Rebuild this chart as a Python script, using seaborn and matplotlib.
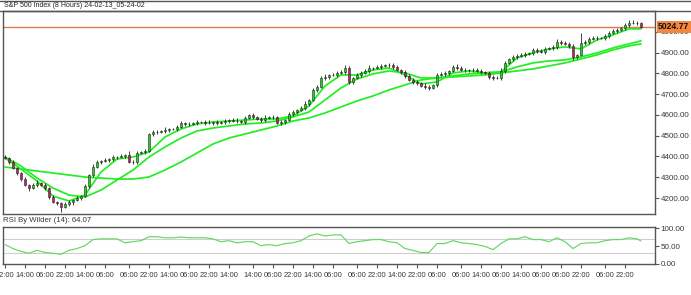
import matplotlib
matplotlib.use("Agg")
import matplotlib.pyplot as plt
from matplotlib.lines import Line2D
from matplotlib import font_manager
import seaborn as sns
import numpy as np
import pandas as pd

# ---------------- data ----------------
first_open = 4398.0
closes = [
    4392.6, 4373.4, 4344.4, 4320.3, 4291.4, 4262.5, 4248.0, 4262.5, 4272.1, 4262.5,
    4248.0, 4204.7, 4180.6, 4175.7, 4156.5, 4170.9, 4180.6, 4190.2, 4199.8, 4209.5,
    4257.7, 4310.7, 4349.3, 4373.4, 4378.2, 4383.0, 4387.8, 4397.5, 4397.5, 4402.3,
    4407.1, 4373.4, 4373.4, 4416.7, 4421.6, 4426.4, 4508.3, 4518.0, 4518.0, 4522.8,
    4527.6, 4532.4, 4532.4, 4542.1, 4561.3, 4556.5, 4556.5, 4561.3, 4566.2, 4566.2,
    4561.3, 4561.3, 4566.2, 4561.3, 4566.2, 4571.0, 4575.8, 4571.0, 4571.0, 4566.2,
    4585.4, 4599.9, 4590.3, 4580.6, 4575.8, 4585.4, 4590.3, 4590.3, 4561.3, 4566.2,
    4575.8, 4604.7, 4614.4, 4624.0, 4633.6, 4652.9, 4672.2, 4720.4, 4734.9, 4778.2,
    4783.1, 4792.7, 4792.7, 4802.3, 4807.2, 4826.4, 4759.0, 4778.2, 4792.7, 4802.3,
    4812.0, 4826.4, 4826.4, 4831.3, 4836.1, 4840.9, 4840.9, 4831.3, 4816.8, 4807.2,
    4787.9, 4768.6, 4759.0, 4754.2, 4739.7, 4734.9, 4730.0, 4744.5, 4792.7, 4797.5,
    4802.3, 4812.0, 4831.3, 4826.4, 4816.8, 4816.8, 4816.8, 4816.8, 4812.0, 4807.2,
    4802.3, 4783.1, 4778.2, 4778.2, 4812.0, 4850.5, 4869.8, 4879.5, 4884.3, 4889.1,
    4893.9, 4898.7, 4913.2, 4908.4, 4903.6, 4918.0, 4922.8, 4927.7, 4951.8, 4946.9,
    4942.1, 4932.5, 4879.5, 4889.1, 4946.9, 4951.8, 4966.2, 4971.0, 4971.0, 4971.0,
    4980.7, 4995.2, 5004.8, 5009.6, 5019.2, 5033.7, 5043.3, 5043.3, 5043.3, 5024.77,
]
wick_up = [
    8, 6, 10, 5, 7, 12, 6, 9, 14, 6,
    8, 5, 10, 7, 6, 9, 12, 5, 8, 6,
    10, 7, 14, 9, 6, 8, 5, 12, 7, 10,
    6, 18, 9, 12, 7, 10, 6, 8, 9, 5,
    12, 7, 6, 10, 8, 5, 11, 7, 9, 6,
    8, 12, 6, 9, 7, 10, 5, 8, 14, 6,
    9, 7, 10, 6, 8, 12, 5, 9, 7, 10,
    6, 8, 11, 7, 9, 14, 6, 10, 8, 7,
    12, 6, 9, 10, 7, 15, 8, 6, 10, 9,
    7, 12, 6, 8, 10, 5, 9, 7, 11, 6,
    8, 10, 7, 9, 6, 12, 8, 5, 10, 7,
    9, 6, 8, 12, 7, 10, 6, 9, 8, 11,
    6, 10, 7, 9, 12, 8, 6, 10, 7, 9,
    8, 6, 11, 7, 9, 10, 6, 8, 12, 7,
    9, 10, 8, 6, 48, 9, 7, 10, 8, 6,
    9, 7, 10, 8, 6, 9, 12, 14, 8, 6,
]
wick_dn = [
    7, 9, 6, 10, 8, 5, 12, 7, 9, 6,
    8, 10, 7, 9, 24, 6, 8, 12, 7, 10,
    6, 9, 8, 7, 10, 6, 9, 8, 12, 7,
    9, 6, 8, 10, 7, 9, 6, 11, 8, 7,
    10, 8, 6, 9, 7, 12, 8, 6, 10, 7,
    9, 6, 8, 11, 7, 9, 10, 6, 8, 7,
    10, 7, 9, 6, 12, 8, 7, 10, 6, 9,
    8, 7, 10, 9, 6, 8, 12, 7, 9, 6,
    8, 10, 7, 9, 6, 12, 10, 8, 7, 9,
    6, 8, 10, 7, 9, 6, 8, 12, 7, 10,
    9, 6, 8, 10, 7, 9, 12, 6, 8, 7,
    10, 8, 6, 9, 7, 11, 8, 10, 6, 9,
    7, 9, 10, 6, 8, 12, 7, 9, 10, 6,
    8, 7, 9, 10, 6, 8, 7, 9, 11, 8,
    6, 9, 15, 8, 7, 10, 8, 6, 9, 7,
    8, 10, 6, 9, 7, 8, 10, 7, 12, 8,
]

# moving averages read every 4 bars (last point at final bar)
ma_bars = list(range(0, 160, 4)) + [159]
ma_fast = [4392.6, 4339.6, 4281.8, 4209.5, 4185.4, 4214.3, 4325.2, 4387.8, 4397.5, 4421.6,
           4493.9, 4532.4, 4556.5, 4566.2, 4571.0, 4575.8, 4580.6, 4580.6, 4595.1, 4643.3,
           4739.7, 4792.7, 4792.7, 4816.8, 4826.4, 4792.7, 4749.3, 4759.0, 4802.3, 4812.0,
           4802.3, 4807.2, 4874.6, 4898.7, 4918.0, 4927.7, 4918.0, 4961.4, 4985.5, 5014.4,
           5014.4]
ma_mid = [4397.5, 4354.1, 4296.2, 4248.0, 4214.3, 4204.7, 4238.4, 4286.6, 4334.8, 4397.5,
          4445.7, 4489.0, 4522.8, 4537.2, 4546.9, 4556.5, 4561.3, 4571.0, 4590.3, 4614.4,
          4672.2, 4730.0, 4773.4, 4797.5, 4812.0, 4802.3, 4778.2, 4778.2, 4787.9, 4797.5,
          4802.3, 4807.2, 4831.3, 4850.5, 4860.2, 4865.0, 4879.5, 4898.7, 4922.8, 4942.1,
          4956.6]
ma_slow = [4349.3, 4339.6, 4330.0, 4320.3, 4310.7, 4301.1, 4296.2, 4291.4, 4291.4, 4301.1,
           4334.8, 4373.4, 4416.7, 4460.1, 4489.0, 4508.3, 4527.6, 4546.9, 4571.0, 4585.4,
           4609.5, 4638.5, 4667.4, 4691.5, 4720.4, 4744.5, 4768.6, 4778.2, 4783.1, 4787.9,
           4792.7, 4802.3, 4812.0, 4821.6, 4836.1, 4850.5, 4869.8, 4889.1, 4913.2, 4932.5,
           4942.1]

# RSI read every 2 bars (last point at final bar)
rsi_bars = list(range(0, 160, 2)) + [159]
rsi = [54, 43, 35, 30, 38, 32, 30, 27, 38, 43, 51, 68, 70, 70, 70, 59, 62, 65, 76, 76,
       73, 73, 75, 73, 73, 73, 70, 62, 65, 59, 62, 62, 51, 54, 51, 57, 59, 65, 78, 84,
       78, 81, 81, 57, 62, 65, 68, 68, 62, 59, 43, 38, 32, 32, 57, 57, 65, 59, 57, 54,
       49, 40, 57, 70, 70, 76, 68, 68, 62, 73, 62, 43, 57, 59, 59, 65, 68, 68, 73, 70,
       64.07]

last_price = 5024.77
price_ticks = [4200, 4300, 4400, 4500, 4600, 4700, 4800, 4900, 5000]
rsi_ticks = [0, 50, 100]
time_tick_bars = [0, 5, 10, 15, 20, 25, 31, 36, 41, 46, 51, 56, 62, 67, 72, 77, 82, 88,
                  93, 98, 103, 108, 114, 119, 124, 129, 134, 139, 144, 150, 155]
time_tick_labels = ["22:00", "14:00", "06:00", "22:00", "14:00", "06:00", "06:00", "22:00",
                    "14:00", "06:00", "22:00", "14:00", "14:00", "06:00", "22:00", "14:00",
                    "06:00", "06:00", "22:00", "14:00", "22:00", "06:00", "06:00", "14:00",
                    "06:00", "14:00", "06:00", "06:00", "22:00", "06:00", "22:00"]
title = "S&P 500 Index (8 Hours) 24-02-13_05-24-02"
rsi_title = "RSI By Wilder (14): 64.07"

# ---------------- style ----------------
sns.set_theme(style="white")
names = {f.name for f in font_manager.fontManager.ttflist}
fam = [n for n in ["Liberation Sans Narrow", "Liberation Sans", "DejaVu Sans"] if n in names]
plt.rcParams["font.family"] = fam

W, H = 691, 295
fig = plt.figure(figsize=(W / 100, H / 100), dpi=100)
fig.patch.set_facecolor("white")

L, R = 3, 655
ax = fig.add_axes([L / W, 1 - 214 / H, (R - L) / W, (214 - 10.5) / H])
ax2 = fig.add_axes([L / W, 1 - 264 / H, (R - L) / W, 37 / H])

GREEN_C = "#27d127"
RED_C = "#c8216b"
MA_C = "#22ee22"
EDGE = "#555555"
TXT = "#3a3a3a"

c = np.array(closes)
o = np.array([first_open] + closes[:-1])
hi = np.maximum(o, c) + np.array(wick_up)
lo = np.minimum(o, c) - np.array(wick_dn)
x = np.arange(len(c))

# moving averages (behind candles)
df_ma = pd.DataFrame({"bar": ma_bars, "fast": ma_fast, "mid": ma_mid, "slow": ma_slow})
for col in ["slow", "mid", "fast"]:
    sns.lineplot(data=df_ma, x="bar", y=col, ax=ax, color=MA_C, linewidth=1.25, zorder=2)

ax.axhline(last_price, color="#e07a4c", linewidth=1.0, zorder=1)

ax.vlines(x, lo, hi, color="#222222", linewidth=0.6, zorder=3)
cols = [GREEN_C if cc >= oo else RED_C for oo, cc in zip(o, c)]
ax.bar(x, np.maximum(np.abs(c - o), 0.8), bottom=np.minimum(o, c), width=0.52,
       color=cols, edgecolor="#222222", linewidth=0.4, zorder=4)

ax.set_xlim(-0.5, 162.5)
ax.set_ylim(4123, 5103)
ax.set_xticks([])
ax.set_xlabel("")
ax.set_ylabel("")
ax.yaxis.tick_right()
ax.set_yticks(price_ticks)
ax.set_yticklabels([f"{v:.2f}" for v in price_ticks])
ax.tick_params(axis="y", right=True, left=False, direction="out", length=3, width=0.8,
               color=EDGE, labelsize=5.8, labelcolor=TXT, pad=1)
for s in ax.spines.values():
    s.set_color(EDGE)
    s.set_linewidth(1.0)

ax.text(1.005, last_price, "5024.77", transform=ax.get_yaxis_transform(), ha="left",
        va="center", fontsize=6.2, fontweight="bold", color="#111111", zorder=10,
        bbox=dict(boxstyle="square,pad=0.18", fc="#f5853f", ec="none"), clip_on=False)

# RSI panel
for g in (30, 70):
    ax2.axhline(g, color="#cfcfcf", linewidth=0.8, zorder=1)
df_rsi = pd.DataFrame({"bar": rsi_bars, "rsi": rsi})
sns.lineplot(data=df_rsi, x="bar", y="rsi", ax=ax2, color="#62d862", linewidth=0.85, zorder=3)
ax2.set_xlim(-0.5, 162.5)
ax2.set_ylim(0, 103)
ax2.set_xlabel("")
ax2.set_ylabel("")
ax2.yaxis.tick_right()
ax2.set_yticks(rsi_ticks)
ax2.set_yticklabels([f"{v:.2f}" for v in rsi_ticks])
ax2.tick_params(axis="y", right=True, left=False, direction="out", length=3, width=0.8,
                color=EDGE, labelsize=5.8, labelcolor=TXT, pad=1)
ax2.set_xticks(time_tick_bars)
ax2.set_xticklabels(time_tick_labels)
ax2.tick_params(axis="x", bottom=True, direction="out", length=3, width=0.8, color=EDGE,
                labelsize=5.4, labelcolor=TXT, pad=3)
for s in ax2.spines.values():
    s.set_color(EDGE)
    s.set_linewidth(1.0)

# header band and labels
fig.add_artist(Line2D([0, 1], [1 - 0.6 / H] * 2, transform=fig.transFigure, color=EDGE, lw=1.0))
fig.add_artist(Line2D([0, 1], [1 - 10.5 / H] * 2, transform=fig.transFigure, color=EDGE, lw=1.0))
fig.text(4 / W, 1 - 5.5 / H, title, ha="left", va="center", fontsize=5.0, color="#222222")
fig.text(3 / W, 1 - 220.5 / H, rsi_title, ha="left", va="center", fontsize=5.6, color=TXT)

fig.savefig("out.png", dpi=100, facecolor="white")
